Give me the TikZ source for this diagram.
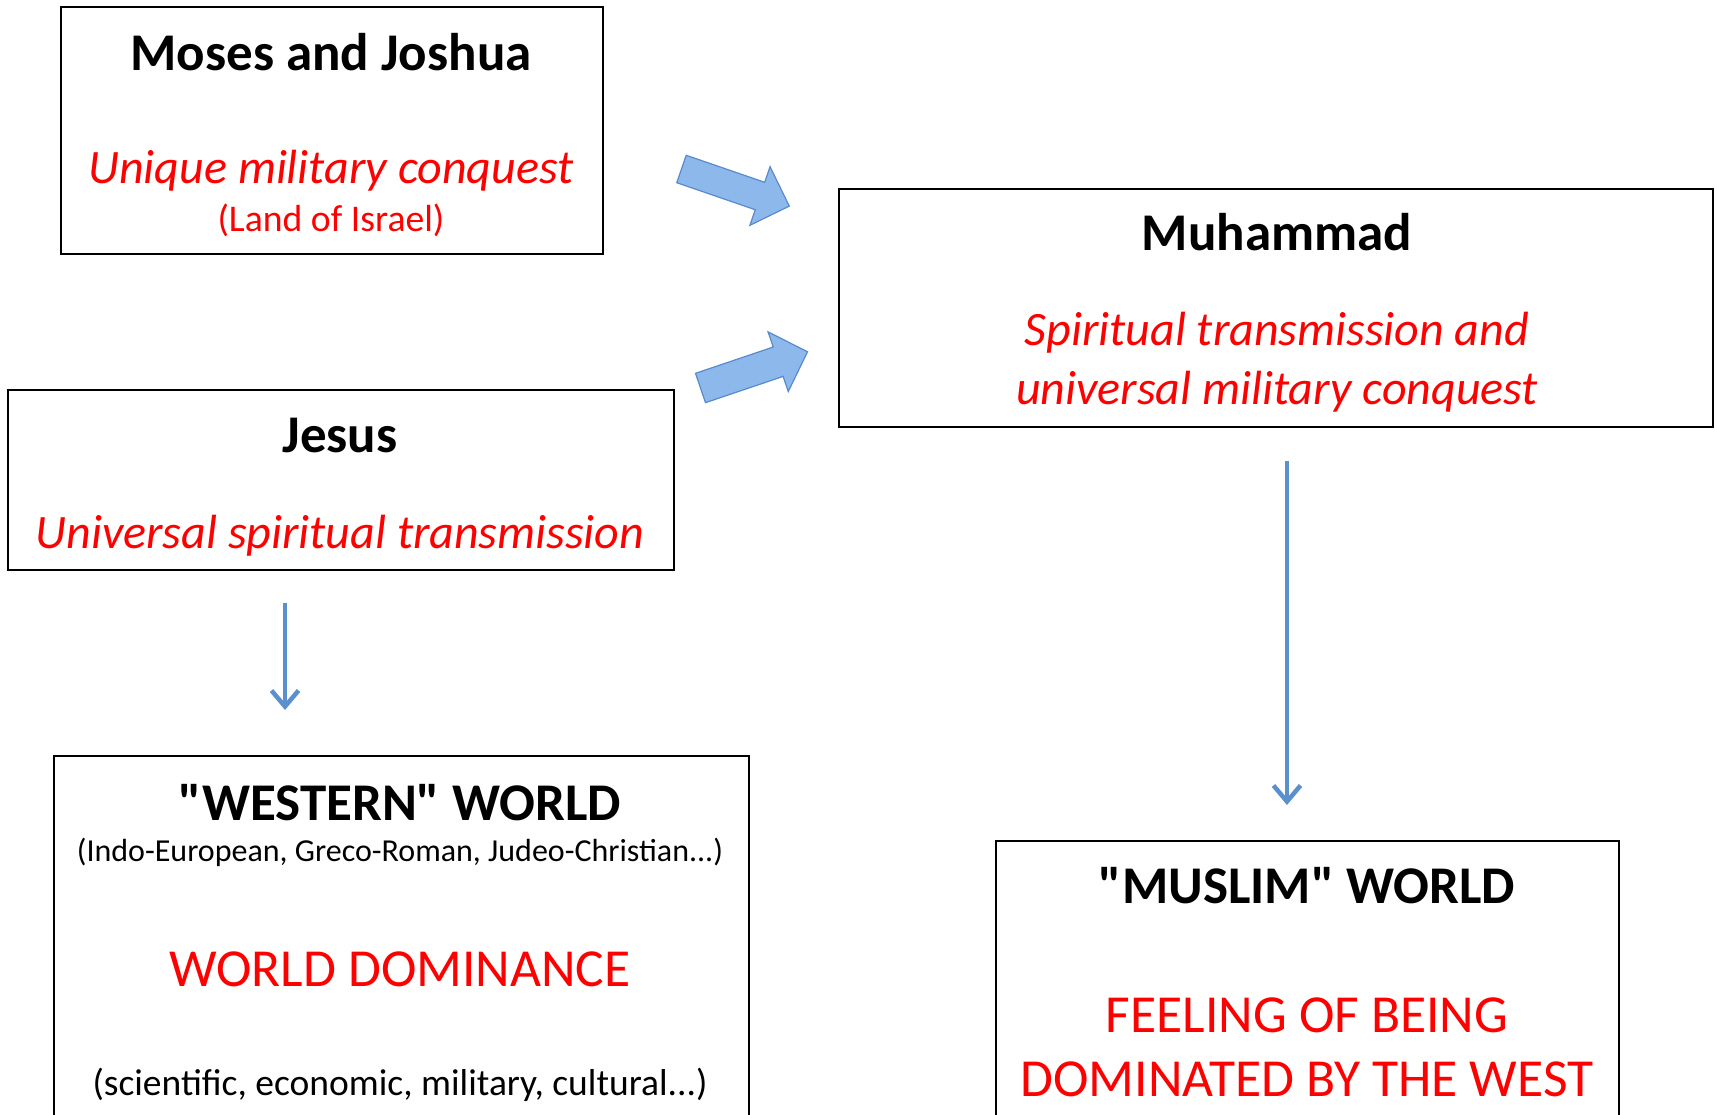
\documentclass[tikz,border=0pt]{standalone}
\usepackage{fontspec}
\setmainfont{Carlito}
\newfontfamily\plaincarlito{Carlito}
\usetikzlibrary{arrows.meta}
\definecolor{boxred}{RGB}{255,0,0}
\definecolor{arrowblue}{RGB}{91,143,205}
\definecolor{blockfill}{RGB}{141,184,236}
\definecolor{blockline}{RGB}{88,138,204}
\newcommand{\dq}{{\plaincarlito\bfseries\symbol{34}}}
\tikzset{
  box/.style={draw=black, line width=2pt, inner sep=0pt, anchor=north west, fill=white},
  title/.style={font=\fontsize{53}{60}\selectfont\bfseries, anchor=base, inner sep=0pt},
  redit/.style={font=\fontsize{48}{55}\selectfont\itshape, text=boxred, anchor=base, inner sep=0pt},
  redbig/.style={font=\fontsize{53.5}{60}\selectfont, text=boxred, anchor=base, inner sep=0pt},
  redsmall/.style={font=\fontsize{37.7}{44}\selectfont, text=boxred, anchor=base, inner sep=0pt},
  small/.style={font=\fontsize{32}{38}\selectfont, anchor=base, inner sep=0pt},
  smallb/.style={font=\fontsize{37.5}{44}\selectfont, anchor=base, inner sep=0pt},
  thinarrow/.style={draw=arrowblue, line width=4.5pt, -{Straight Barb[length=16pt,width=27pt,line width=4.5pt]}},
  blockarrow/.style={fill=blockfill, draw=blockline, line width=1.2pt, line join=miter}
}
\begin{document}
\begin{tikzpicture}[x=1pt,y=-1pt]
\useasboundingbox[fill=white] (0,0) rectangle (1717,1115);

% boxes
\node[box, minimum width=542pt, minimum height=247pt] (moses) at (60,6) {};
\node[box, minimum width=874pt, minimum height=238pt] (muhammad) at (838,188) {};
\node[box, minimum width=666pt, minimum height=180pt] (jesus) at (7,389) {};
\node[box, minimum width=695pt, minimum height=380pt] (western) at (53,755) {};
\node[box, minimum width=623pt, minimum height=300pt] (muslim) at (995,840) {};

% texts
\node[title] (t1) at (331,71) {Moses and Joshua};
\node[redit] (t2) at (331,184) {Unique military conquest};
\node[redsmall] (t3) at (331,232) {(Land of Israel)};

\node[title] (t4) at (1277,251) {Muhammad};
\node[redit] (t5) at (1277,346) {Spiritual transmission and};
\node[redit] (t6) at (1277,404) {universal military conquest};

\node[title] (t7) at (340,452) {Jesus};
\node[redit] (t8) at (340,548) {Universal spiritual transmission};

\node[title] (t9) at (400,820) {\dq WESTERN\dq{} WORLD};
\node[small] (t10) at (400,861) {(Indo-European, Greco-Roman, Judeo-Christian...)};
\node[redbig] (t11) at (400,986) {WORLD DOMINANCE};
\node[smallb] (t12) at (400,1095) {(scientific, economic, military, cultural...)};

\node[title] (t13) at (1307,903) {\dq MUSLIM\dq{} WORLD};
\node[redbig] (t14) at (1307,1032) {FEELING OF BEING};
\node[redbig] (t15) at (1307,1096) {DOMINATED BY THE WEST};

% block arrows
\begin{scope}[shift={(681.5,169)}, rotate=-19]
  \draw[blockarrow] (0,-14.5) -- (83,-14.5) -- (83,-31) -- (114,0) -- (83,31) -- (83,14.5) -- (0,14.5) -- cycle;
\end{scope}
\begin{scope}[shift={(700.5,388)}, rotate=18.7]
  \draw[blockarrow] (0,-15.5) -- (82,-15.5) -- (82,-31.5) -- (113,0) -- (82,31.5) -- (82,15.5) -- (0,15.5) -- cycle;
\end{scope}

% thin arrows
\coordinate (ja) at (285,603);
\coordinate (jb) at (285,710);
\coordinate (ma) at (1287,461);
\coordinate (mb) at (1287,805);
\draw[thinarrow] (ja) -- (jb);
\draw[thinarrow] (ma) -- (mb);
\end{tikzpicture}
\end{document}
